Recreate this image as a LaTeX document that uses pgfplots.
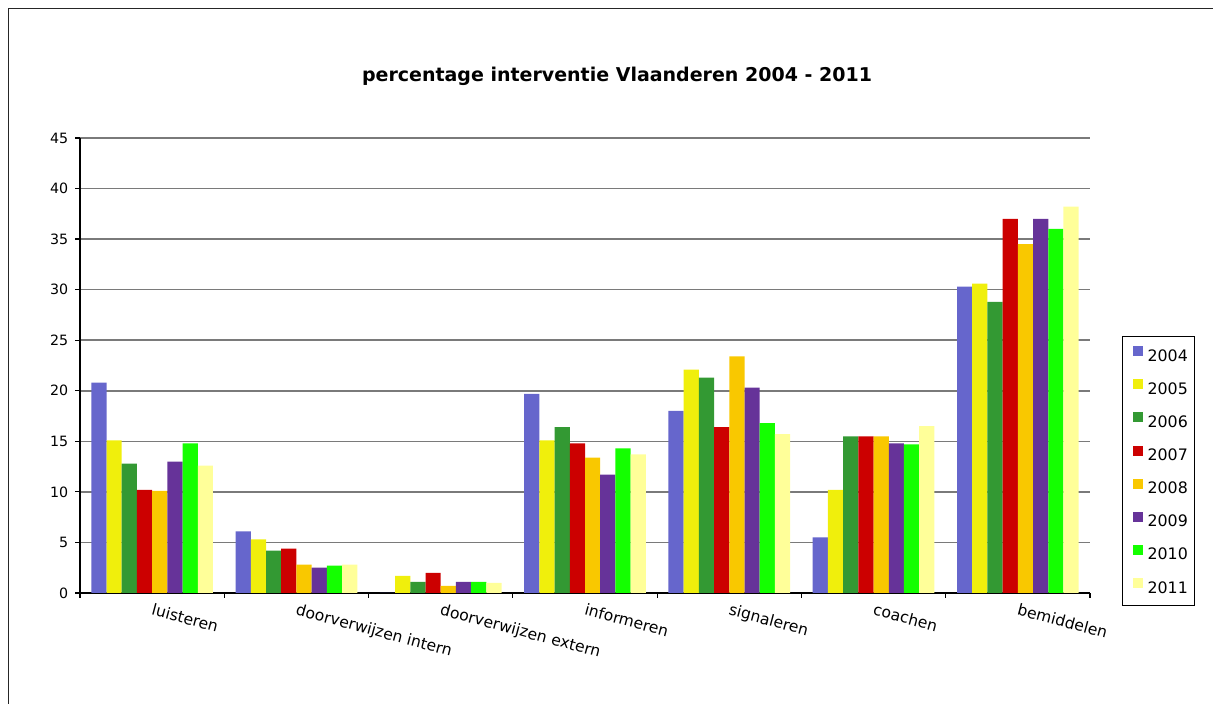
\documentclass[border=0pt]{standalone}
\usepackage{pgfplots}
\pgfplotsset{compat=1.18}
\usepackage{pgfplotstable}
\usepackage{fontspec}
\setmainfont{DejaVu Sans}
\definecolor{c2004}{HTML}{6666CC}
\definecolor{c2005}{HTML}{F0EF0C}
\definecolor{c2006}{HTML}{339933}
\definecolor{c2007}{HTML}{CC0000}
\definecolor{c2008}{HTML}{F9C800}
\definecolor{c2009}{HTML}{663399}
\definecolor{c2010}{HTML}{14FF00}
\definecolor{c2011}{HTML}{FFFF99}
\definecolor{gridc}{HTML}{7A7A7A}
\pgfplotstableread{
x y2004 y2005 y2006 y2007 y2008 y2009 y2010 y2011
0 20.8 15.1 12.8 10.2 10.1 13.0 14.8 12.6
1 6.1 5.3 4.2 4.4 2.8 2.5 2.7 2.8
2 0 1.7 1.1 2.0 0.7 1.1 1.1 1.0
3 19.7 15.1 16.4 14.8 13.4 11.7 14.3 13.7
4 18.0 22.1 21.3 16.4 23.4 20.3 16.8 15.7
5 5.5 10.2 15.5 15.5 15.5 14.8 14.7 16.5
6 30.3 30.6 28.8 37.0 34.5 37.0 36.0 38.2
}\data
\begin{document}
\begin{tikzpicture}
\useasboundingbox (0,0) rectangle (606.5pt,352pt);
\draw[line width=0.8pt, black!85] (4.2pt,-2pt) -- (4.2pt,347.8pt) -- (610pt,347.8pt);
\begin{axis}[
  at={(40pt,55.5pt)}, anchor=south west,
  scale only axis, width=505pt, height=227.5pt,
  ybar=0pt, bar width=0.1054,
  xmin=-0.5, xmax=6.5, ymin=0, ymax=45,
  enlargelimits=false,
  axis x line*=bottom, axis y line*=left,
  axis line style={line width=0.9pt, black, -},
  ytick={0,5,...,45},
  ymajorgrids, grid style={line width=0.75pt, gridc},
  xtick={-0.5,0.5,...,6.5},
  xticklabels={},
  extra x ticks={0,...,6},
  extra x tick labels={luisteren, doorverwijzen intern, doorverwijzen extern, informeren, signaleren, coachen, bemiddelen},
  extra x tick style={major tick length=0pt, grid=none,
    tick label style={rotate=-15, anchor=north west, inner sep=0pt, xshift=2pt, yshift=-4.5pt, font=\fontsize{7.8}{8.5}\selectfont}},
  tick align=outside,
  major tick length=2.4pt,
  tick style={black, line width=0.6pt},
  y tick label style={font=\fontsize{7.1}{8}\selectfont},
  /pgf/number format/assume math mode=true,
  title={percentage interventie Vlaanderen 2004 - 2011},
  title style={at={(0.5317,1.11)}, anchor=center, font=\bfseries\fontsize{9.5}{11}\selectfont},
  legend style={at={(1.0317,0.5648)}, anchor=north west, draw=black, line width=0.6pt,
    font=\fontsize{7.9}{9}\selectfont, row sep=7.5pt, column sep=0pt,
    inner xsep=3.5pt, inner ysep=4.8pt,
    nodes={inner sep=0pt, text height=6pt, text depth=1.5pt}},
  legend cell align=left,
  legend image code/.code={\path (-1.5pt,0pt); \fill[#1] (0pt,0.3pt) rectangle (5pt,5.3pt); \path (7.5pt,0pt);},
  every axis plot/.append style={draw=none},
]
\addplot[fill=c2004] table[x=x,y=y2004]{\data};
\addplot[fill=c2005] table[x=x,y=y2005]{\data};
\addplot[fill=c2006] table[x=x,y=y2006]{\data};
\addplot[fill=c2007] table[x=x,y=y2007]{\data};
\addplot[fill=c2008] table[x=x,y=y2008]{\data};
\addplot[fill=c2009] table[x=x,y=y2009]{\data};
\addplot[fill=c2010] table[x=x,y=y2010]{\data};
\addplot[fill=c2011] table[x=x,y=y2011]{\data};
\legend{2004,2005,2006,2007,2008,2009,2010,2011}
\end{axis}
\end{tikzpicture}
\end{document}
